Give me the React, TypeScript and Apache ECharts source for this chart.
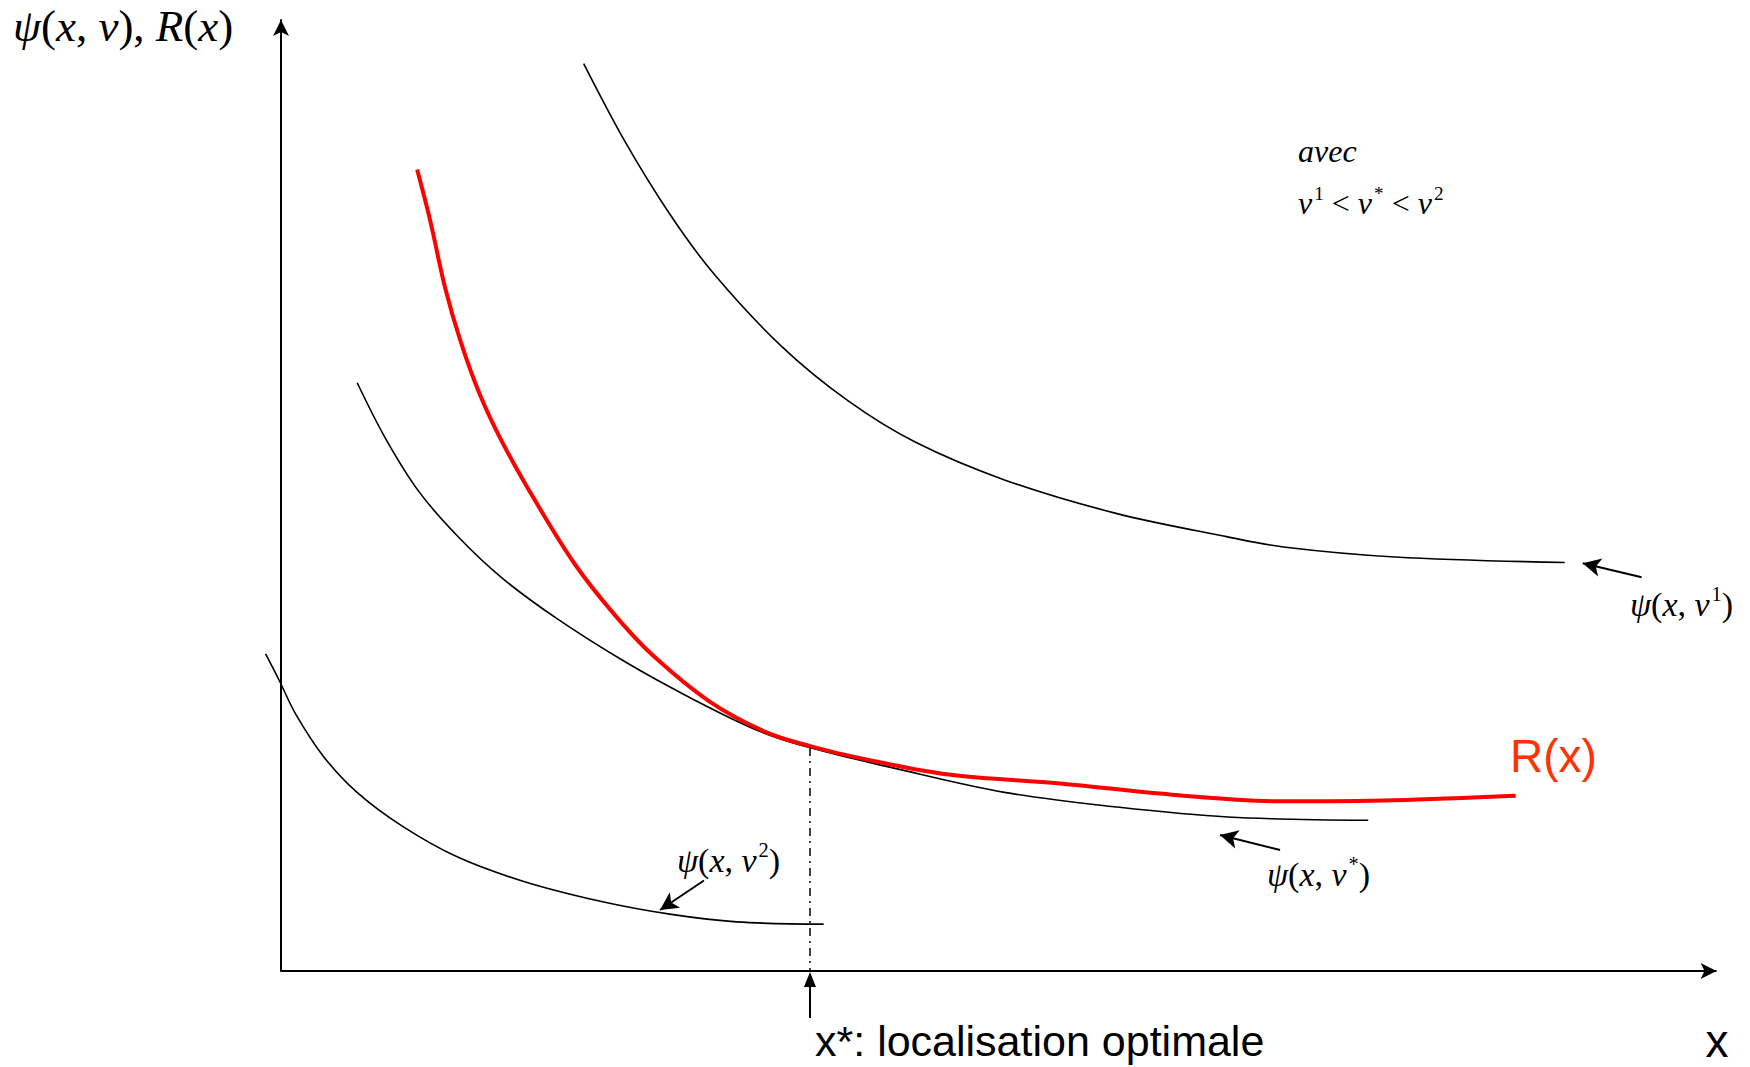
import React, { useEffect, useRef } from "react";
import * as echarts from "echarts";

// Curves (abstract units, origin at the axes' crossing)
const curveV1: [number, number][] = [
  [21.21, 96.22], [24.11, 87.95], [27.24, 80.28], [30.36, 73.88], [35.06, 66.27],
  [39.75, 60.45], [44.44, 56.09], [50.7, 52.08], [58.52, 48.53], [66.34, 46.04],
  [70.25, 44.97], [78.07, 43.91], [89.96, 43.32],
];
const curveR: [number, number][] = [
  [9.54, 84.99], [10.43, 79.73], [11.51, 72.4], [12.58, 66.8], [13.92, 61.19],
  [15.53, 56.01], [17.94, 49.54], [20.62, 43.08], [23.31, 37.9], [25.98, 33.58],
  [30.01, 28.6], [34.03, 25.3], [37.07, 23.85], [40.5, 22.6], [46.79, 20.83],
  [54.61, 19.88], [62.43, 18.7], [70.25, 17.99], [78.07, 18.11], [86.52, 18.58],
];
const curveVStar: [number, number][] = [
  [5.34, 62.38], [7.29, 56.57], [9.64, 50.89], [12.38, 46.1], [15.5, 41.66],
  [19.42, 37.28], [24.11, 32.79], [28.8, 28.88], [33.49, 25.45], [37.09, 23.67],
  [42.88, 21.54], [50.7, 18.94], [58.52, 17.4], [66.34, 16.33], [76.19, 15.98],
];
const curveV2: [number, number][] = [
  [-1.08, 33.62], [-0.14, 30.86], [1.04, 27.22], [2.99, 22.73], [5.33, 18.94],
  [8.47, 15.39], [12.38, 12.08], [17.07, 9.47], [22.54, 7.34], [27.24, 6.03],
  [31.93, 5.21], [38.03, 4.97],
];

// Optimal location and tangency height
const X_STAR = 37.07;
const TANGENT_Y = 23.65;
const X_AXIS_END = 100.6;

// Annotation arrows: [tail, head]
const arrowV1: [number, number][] = [[95.35, 41.75], [91.22, 43.23]];
const arrowVStar: [number, number][] = [[70.01, 12.83], [65.8, 14.42]];
const arrowV2: [number, number][] = [[29.64, 9.6], [26.56, 6.47]];

const SERIF = "'Liberation Serif', 'Times New Roman', serif";
const SANS = "'Liberation Sans', Arial, sans-serif";

function mathRich(size: number) {
  return {
    i: { fontFamily: SERIF, fontStyle: "italic", fontSize: size, lineHeight: size * 1.2, fill: "#000" },
    n: { fontFamily: SERIF, fontSize: size, lineHeight: size * 1.2, fill: "#000" },
    s: { fontFamily: SERIF, fontSize: size * 0.6, lineHeight: size * 0.6, verticalAlign: "top", fill: "#000", padding: [0, 0, 0, 2] },
  };
}

function arrowMarkLine(a: [number, number][]) {
  return {
    silent: true,
    symbol: ["none", "arrow"],
    symbolSize: [14, 18],
    label: { show: false },
    lineStyle: { color: "#000", width: 2, type: "solid" },
    data: [[{ coord: a[0] }, { coord: a[1] }]],
  };
}

export default function App() {
  const ref = useRef<HTMLDivElement>(null);
  useEffect(() => {
    if (!ref.current) return;
    const chart = echarts.init(ref.current, null, { renderer: "svg" });
    const lineBase = {
      type: "line" as const,
      smooth: 0.35,
      showSymbol: false,
      symbol: "none",
      clip: false,
      silent: true,
    };
    chart.setOption({
      animation: false,
      backgroundColor: "#fff",
      grid: { left: 252.46, top: 20, right: 27.73, bottom: 96 },
      xAxis: {
        type: "value",
        min: -2,
        max: 101,
        axisLine: { show: false },
        axisTick: { show: false },
        axisLabel: { show: false },
        splitLine: { show: false },
      },
      yAxis: {
        type: "value",
        min: 0,
        max: 100.85,
        axisLine: {
          show: true,
          onZero: true,
          symbol: ["none", "arrow"],
          symbolSize: [12, 16],
          lineStyle: { color: "#000", width: 2 },
        },
        axisTick: { show: false },
        axisLabel: { show: false },
        splitLine: { show: false },
      },
      series: [
        {
          ...lineBase,
          name: "xaxis",
          data: [],
          markLine: {
            silent: true,
            symbol: ["none", "arrow"],
            symbolSize: [12, 16],
            label: { show: false },
            lineStyle: { color: "#000", width: 2, type: "solid" },
            data: [[{ coord: [0, 0] }, { coord: [X_AXIS_END, 0] }]],
          },
        },
        { ...lineBase, name: "v1", data: curveV1, lineStyle: { color: "#000", width: 1.6 }, markLine: arrowMarkLine(arrowV1) },
        {
          ...lineBase,
          name: "vstar",
          data: curveVStar,
          lineStyle: { color: "#000", width: 1.6 },
          markLine: {
            silent: true,
            symbol: ["none", "none"],
            label: { show: false },
            lineStyle: { color: "#000", width: 1.5, type: [8, 5, 2, 5] },
            data: [[{ coord: [X_STAR, TANGENT_Y] }, { coord: [X_STAR, 0] }]],
          },
        },
        { ...lineBase, name: "v2", data: curveV2, lineStyle: { color: "#000", width: 1.6 }, markLine: arrowMarkLine(arrowV2) },
        { ...lineBase, name: "vstarArrow", data: [], markLine: arrowMarkLine(arrowVStar) },
        { ...lineBase, name: "R", data: curveR, z: 5, lineStyle: { color: "#ff0000", width: 4 } },
      ],
    });

    const p = chart.convertToPixel({ gridIndex: 0 }, [X_STAR, 0]) as number[];
    const ax = p[0];
    const ay = p[1];

    chart.setOption({
      graphic: [
        { type: "line", silent: true, shape: { x1: ax, y1: ay + 47, x2: ax, y2: ay + 14 }, style: { stroke: "#000", lineWidth: 2 } },
        { type: "polygon", silent: true, shape: { points: [[ax, ay + 1], [ax - 6, ay + 16], [ax + 6, ay + 16]] }, style: { fill: "#000" } },
        {
          type: "text", x: 13, y: 26, silent: true,
          style: {
            text: "{i|ψ}{n|(}{i|x}{n|, }{i|v}{n|), }{i|R}{n|(}{i|x}{n|)}",
            rich: mathRich(45), align: "left", verticalAlign: "middle",
          },
        },
        {
          type: "text", x: 1298, y: 151, silent: true,
          style: { text: "avec", fontFamily: SERIF, fontStyle: "italic", fontSize: 32, fill: "#000", align: "left", verticalAlign: "middle" },
        },
        {
          type: "text", x: 1298, y: 203, silent: true,
          style: {
            text: "{i|v}{s|1}{n| < }{i|v}{s|*}{n| < }{i|v}{s|2}",
            rich: mathRich(32), align: "left", verticalAlign: "middle",
          },
        },
        {
          type: "text", x: 1630, y: 604, silent: true,
          style: { text: "{i|ψ}{n|(}{i|x}{n|, }{i|v}{s|1}{n|)}", rich: mathRich(34), align: "left", verticalAlign: "middle" },
        },
        {
          type: "text", x: 1267, y: 874, silent: true,
          style: { text: "{i|ψ}{n|(}{i|x}{n|, }{i|v}{s|*}{n|)}", rich: mathRich(34), align: "left", verticalAlign: "middle" },
        },
        {
          type: "text", x: 677, y: 860, silent: true,
          style: { text: "{i|ψ}{n|(}{i|x}{n|, }{i|v}{s|2}{n|)}", rich: mathRich(34), align: "left", verticalAlign: "middle" },
        },
        {
          type: "text", x: 1510, y: 756, silent: true,
          style: { text: "R(x)", fontFamily: SANS, fontSize: 46, fill: "#ff3300", align: "left", verticalAlign: "middle" },
        },
        {
          type: "text", x: 815, y: 1041, silent: true,
          style: { text: "x*: localisation optimale", fontFamily: SANS, fontSize: 43, lineHeight: 44, fill: "#000", align: "left", verticalAlign: "middle" },
        },
        {
          type: "text", x: 1717, y: 1041, silent: true,
          style: { text: "x", fontFamily: SANS, fontSize: 46, lineHeight: 44, fill: "#000", align: "center", verticalAlign: "middle" },
        },
      ],
    });

    return () => chart.dispose();
  }, []);
  return (
    <div
      ref={ref}
      style={{ position: "fixed", left: 0, top: 0, width: 1750, height: 1067, background: "#fff" }}
    />
  );
}
